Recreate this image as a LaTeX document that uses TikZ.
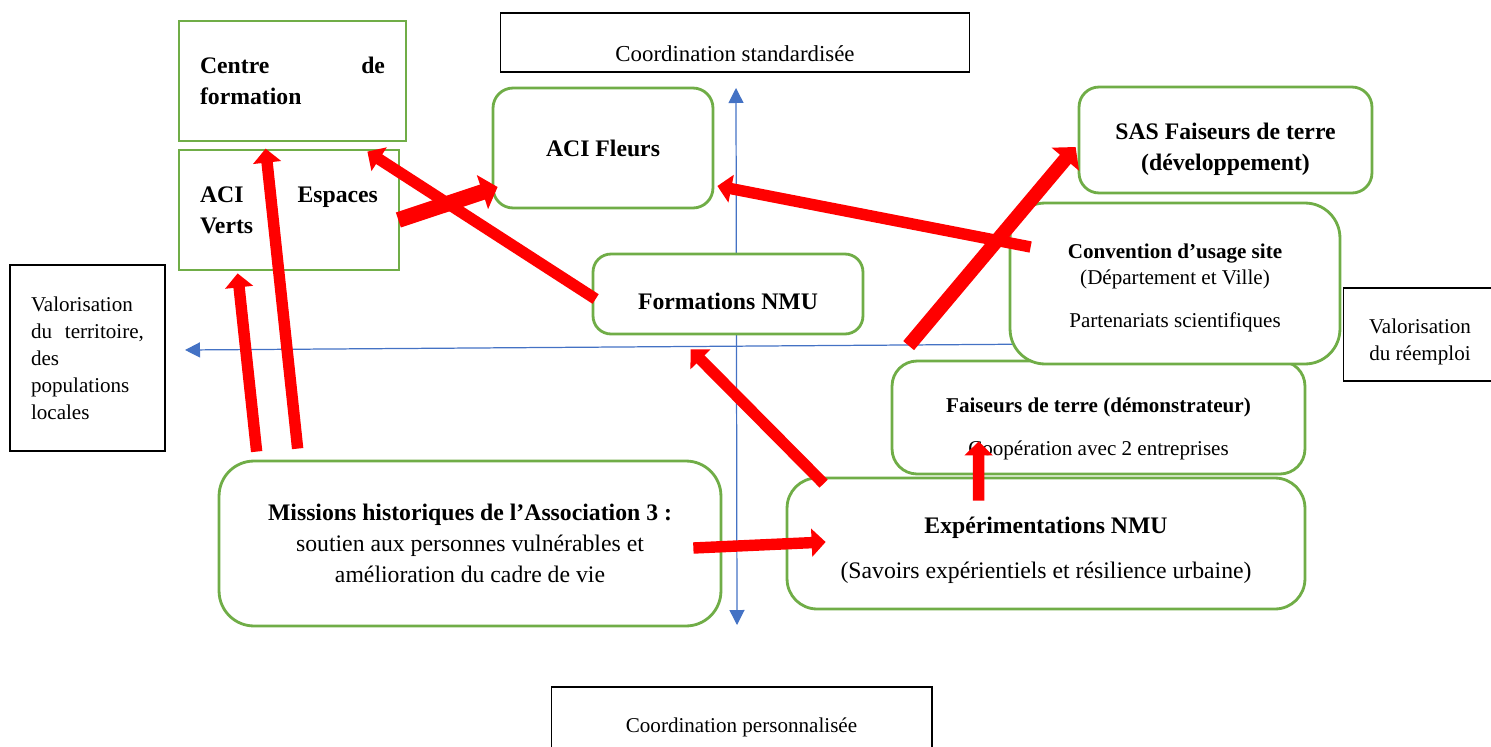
\documentclass[tikz,border=0pt]{standalone}
\usepackage{fontspec}
\setmainfont{Liberation Serif}
\usetikzlibrary{arrows.meta}
\usetikzlibrary{positioning}
\usetikzlibrary{calc}
\definecolor{vertbox}{HTML}{70AD47}
\definecolor{bleuaxe}{HTML}{4472C4}

\begin{document}
\begin{tikzpicture}[x=0.02cm,y=-0.02cm,
    green box/.style={draw=vertbox,line width=1.6pt,fill=white,inner sep=0pt,font=\fontsize{13.5}{17.5}\selectfont},
    round box/.style={green box,rounded corners=#1},
    axis label/.style={draw=black,line width=0.6pt,fill=white,inner sep=0pt,font=\fontsize{12}{15.4}\selectfont},
    red arrow/.style={-{Triangle[length=0.28cm,width=0.55cm]},line width=6.5pt,red},
    big arrow/.style={-{Triangle[length=0.32cm,width=0.7cm]},line width=#1,red},
    axis/.style={bleuaxe,line width=0.7pt}]
  \useasboundingbox (0,0) rectangle (1491,747);

  % axes
  \coordinate (haut) at (736,88);
  \coordinate (bas) at (737,625);
  \coordinate (gauche) at (185,350);
  \coordinate (droite) at (1338,342);
  \draw[axis,{Triangle[length=0.3cm,width=0.3cm]}-{Triangle[length=0.3cm,width=0.3cm]}] (bas) -- (haut);
  \draw[axis,-{Triangle[length=0.3cm,width=0.3cm]}] (droite) -- (gauche);

  % axis labels
  \node[axis label,minimum width=9.4cm,minimum height=1.18cm,text height=0.86cm,text depth=0.1cm,font=\fontsize{13}{16}\selectfont] (standard) at (735,42.5) {Coordination standardisée};
  \node[axis label,minimum width=7.62cm,minimum height=1.6cm] (perso) at (741.5,727) {Coordination personnalisée};
  \node[axis label,minimum width=3.1cm,minimum height=3.72cm,text width=2.26cm,align=left] (territoire) at (87.5,358)
    {Valorisation\\du \hfill territoire,\\des\\populations\\locales};
  \node[axis label,minimum width=3.08cm,minimum height=1.86cm,align=center] (reemploi) at (1420,334.5) {\rule{0pt}{0.58cm}Valorisation\\du réemploi};

  % boxes
  \node[green box,minimum width=4.54cm,minimum height=2.4cm,text width=3.7cm,align=left] (centre) at (292.5,81)
    {\textbf{Centre \hfill de\\formation}};
  \node[green box,minimum width=4.4cm,minimum height=2.4cm,text width=3.56cm,align=left] (espaces) at (289,210)
    {\textbf{ACI \hfill Espaces\\Verts}};
  \node[round box=0.4cm,minimum width=4.4cm,minimum height=2.4cm] (fleurs) at (603,148) {\textbf{ACI Fleurs}};
  \node[round box=0.4cm,minimum width=5.86cm,minimum height=2.12cm,align=center] (sas) at (1225.5,140)
    {\rule{0pt}{0.69cm}\textbf{SAS Faiseurs de terre}\\\textbf{(développement)}};
  \node[round box=0.36cm,minimum width=5.4cm,minimum height=1.6cm,text height=0.6cm,text depth=0cm] (formations) at (728,294) {\textbf{Formations NMU}};
  \node[round box=0.5cm,minimum width=8.26cm,minimum height=2.26cm,align=center,font=\fontsize{12}{14.8}\selectfont] (demo) at (1098.5,417.5)
    {\rule{0pt}{0.74cm}\textbf{Faiseurs de terre (démonstrateur)}\\[0.34cm]Coopération avec 2 entreprises};
  \node[round box=0.7cm,minimum width=6.6cm,minimum height=3.22cm,align=center,font=\fontsize{12}{14.8}\selectfont] (convention) at (1175,283.5)
    {\rule{0pt}{0.46cm}\textbf{Convention d’usage site}\\(Département et Ville)\\[0.34cm]Partenariats scientifiques};
  \node[round box=0.7cm,minimum width=10.04cm,minimum height=3.3cm,align=center] (missions) at (470,543.5)
    {\textbf{Missions historiques de l’Association 3 :}\\soutien aux personnes vulnérables et\\amélioration du cadre de vie};
  \node[round box=0.6cm,minimum width=10.36cm,minimum height=2.62cm,align=center] (exper) at (1046,543.5)
    {\rule{0pt}{0.61cm}\textbf{Expérimentations NMU}\\[0.28cm](Savoirs expérientiels et résilience urbaine)};

  % red arrows
  \draw[red arrow] ($(missions.north west)+(39,-8)$) -- ($(espaces.south west)+(60,2)$);
  \draw[red arrow] ($(missions.north west)+(80,-11)$) -- ($(espaces.north west)+(88,0)$);
  \draw[red arrow] ($(formations.west)+(4,5)$) -- ($(espaces.north east)+(-33,3)$);
  \draw[big arrow=9pt] ($(espaces.east)+(-2,10)$) -- ($(fleurs.west)+(6,39)$);
  \draw[red arrow] ($(convention.west)+(22,-36.5)$) -- ($(fleurs.east)+(3,38)$);
  \draw[big arrow=8pt] ($(demo.north west)+(18,-14)$) -- ($(sas.west)+(-2,7)$);
  \draw[red arrow] ($(exper.north west)+(38,7)$) -- ($(formations.south west)+(99,14)$);
  \draw[red arrow] ($(missions.east)+(-29,4.5)$) -- ($(exper.west)+(40,-1.5)$);
  \draw[red arrow] ($(exper.north west)+(193,24)$) -- ($(demo.south west)+(88,-34)$);
\end{tikzpicture}
\end{document}
